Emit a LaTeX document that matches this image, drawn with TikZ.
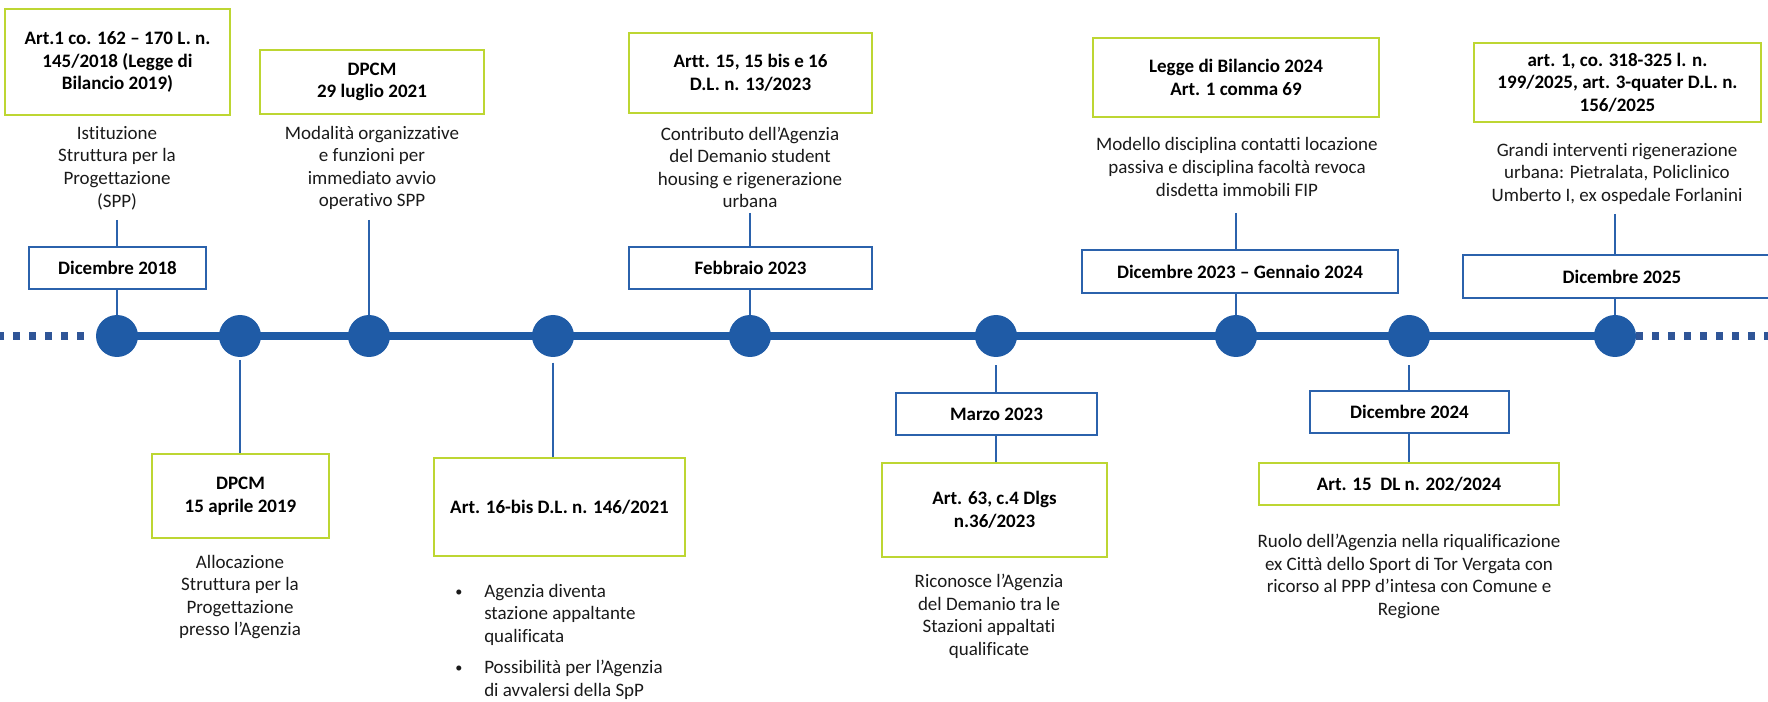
\documentclass[tikz,border=0pt]{standalone}
\usepackage{fontspec}
\setmainfont{Carlito}[Ligatures=NoCommon]
\usepackage{graphicx}
\definecolor{lime}{HTML}{BDD632}
\definecolor{tlblue}{HTML}{1F5BA6}
\definecolor{bxblue}{HTML}{2B62AC}
\definecolor{dotsq}{HTML}{2F5597}
\definecolor{txt}{HTML}{1A1A1A}
\newcommand{\smbul}{\raisebox{0.15ex}{\scalebox{0.75}{\textbullet}}}
\begin{document}
\begin{tikzpicture}[x=0.75pt,y=-0.75pt,
  every node/.style={font=\fontsize{14.25}{16.9}\selectfont, text=txt, inner sep=0pt},
  sz/.style 2 args={minimum width=#1*0.75pt, minimum height=#2*0.75pt},
  lawbox/.style={draw=lime, line width=2.1pt, align=center, font=\bfseries\fontsize{14.25}{16.9}\selectfont, text=black},
  datebox/.style={draw=bxblue, line width=2pt, align=center, font=\bfseries\fontsize{14.25}{16.9}\selectfont, text=black},
  desc/.style={align=center},
  conn/.style={draw=bxblue, line width=1.8pt},
  tdot/.style={circle, fill=tlblue, minimum size=42*0.75pt},
  tline/.style={draw=tlblue, line width=6pt},
  dline/.style={draw=dotsq, line width=5.6pt, dash pattern=on 5.4pt off 6.6pt}
]
\useasboundingbox (0,0) rectangle (1768,702);

% timeline positions
\coordinate (p1) at (117,336);
\coordinate (p2) at (240,336);
\coordinate (p3) at (369,336);
\coordinate (p4) at (553,336);
\coordinate (p5) at (750,336);
\coordinate (p6) at (996,336);
\coordinate (p7) at (1236,336);
\coordinate (p8) at (1409,336);
\coordinate (p9) at (1615,336);
\coordinate (lend) at (0,336);
\coordinate (lstart) at (84,336);
\coordinate (rstart) at (1636,336);
\coordinate (rend) at (1768,336);

\draw[tline] (p1) -- (p9);
\draw[dline] (lstart) -- (lend);
\draw[dline] (rstart) -- (rend);

% ---- top items ----
\node[lawbox, sz={225}{106}] (g1) at (117.5,62) {Art.1 co. 162 -- 170 L. n.\\145/2018 (Legge di\\Bilancio 2019)};
\node[desc] (d1) at (117,168) {Istituzione\\Struttura per la\\Progettazione\\(SPP)};
\coordinate (c1) at (117,220);
\node[datebox, sz={177}{42}] (b1) at (117.5,268) {Dicembre 2018};

\node[lawbox, sz={224}{64}] (g3) at (372,82) {DPCM\\29 luglio 2021};
\node[desc] (d3) at (372,168) {Modalità organizzative\\e funzioni per\\immediato avvio\\operativo SPP};
\coordinate (c3) at (369,220);

\node[lawbox, sz={243}{80}] (g5) at (750.5,73) {Artt. 15, 15 bis e 16\\D.L. n. 13/2023};
\node[desc] (d5) at (750,167.5) {Contributo dell’Agenzia\\del Demanio student\\housing e rigenerazione\\urbana};
\coordinate (c5) at (750,213);
\node[datebox, sz={243}{42}] (b5) at (750.5,268) {Febbraio 2023};

\node[lawbox, sz={286}{79}] (g7) at (1236,77.5) {Legge di Bilancio 2024\\Art. 1 comma 69};
\node[desc] (d7) at (1237,167) {Modello disciplina contatti locazione\\passiva e disciplina facoltà revoca\\disdetta immobili FIP};
\coordinate (c7) at (1236,213);
\node[datebox, sz={316}{43}] (b7) at (1240,271.5) {Dicembre 2023 -- Gennaio 2024};

\node[lawbox, sz={287}{79}] (g9) at (1617.5,82.5) {art. 1, co. 318-325 l. n.\\199/2025, art. 3-quater D.L. n.\\156/2025};
\node[desc] (d9) at (1617,173.5) {Grandi interventi rigenerazione\\urbana: Pietralata, Policlinico\\Umberto I, ex ospedale Forlanini};
\coordinate (c9) at (1615,214);
\node[datebox, sz={318}{43}] (b9) at (1622,276.5) {Dicembre 2025};

% ---- bottom items ----
\node[lawbox, sz={177}{84}] (g2) at (240.5,496) {DPCM\\15 aprile 2019};
\node[desc] (d2) at (240,597) {Allocazione\\Struttura per la\\Progettazione\\presso l’Agenzia};

\node[lawbox, sz={251}{98}] (g4) at (559.5,507) {Art. 16-bis D.L. n. 146/2021};
\node[align=left, anchor=north west] (d4) at (455,584)
  {\makebox[21.75pt][l]{\smbul}Agenzia diventa\\
   \hspace*{21.75pt}stazione appaltante\\
   \hspace*{21.75pt}qualificata\\[6.4pt]
   \makebox[21.75pt][l]{\smbul}Possibilità per l’Agenzia\\
   \hspace*{21.75pt}di avvalersi della SpP};

\node[datebox, sz={201}{42}] (b6) at (996.5,414) {Marzo 2023};
\node[lawbox, sz={225}{94}] (g6) at (994.5,510) {Art. 63, c.4 Dlgs\\n.36/2023};
\node[desc] (d6) at (989,616.5) {Riconosce l’Agenzia\\del Demanio tra le\\Stazioni appaltati\\qualificate};

\node[datebox, sz={199}{42}] (b8) at (1409.5,412) {Dicembre 2024};
\node[lawbox, sz={300}{42}] (g8) at (1409,484) {Art. 15\ \ DL n. 202/2024};
\node[desc] (d8) at (1409,576.5) {Ruolo dell’Agenzia nella riqualificazione\\ex Città dello Sport di Tor Vergata con\\ricorso al PPP d’intesa con Comune e\\Regione};

% ---- connectors ----
\draw[conn] (c1) -- (c1 |- b1.north);
\draw[conn] (c1 |- b1.south) -- (p1);
\draw[conn] (c3) -- (p3);
\draw[conn] (c5) -- (c5 |- b5.north);
\draw[conn] (c5 |- b5.south) -- (p5);
\draw[conn] (c7) -- (c7 |- b7.north);
\draw[conn] (c7 |- b7.south) -- (p7);
\draw[conn] (c9) -- (c9 |- b9.north);
\draw[conn] (c9 |- b9.south) -- (p9);

% dots
\node[tdot] (n1) at (p1) {};
\node[tdot] (n2) at (p2) {};
\node[tdot] (n3) at (p3) {};
\node[tdot] (n4) at (p4) {};
\node[tdot] (n5) at (p5) {};
\node[tdot] (n6) at (p6) {};
\node[tdot] (n7) at (p7) {};
\node[tdot] (n8) at (p8) {};
\node[tdot] (n9) at (p9) {};

\draw[conn, shorten <=2pt] (n2.south) -- (n2 |- g2.north);
\draw[conn, shorten <=4pt] (n4.south) -- (n4 |- g4.north);
\draw[conn, shorten <=6pt] (n6.south) -- (n6 |- b6.north);
\draw[conn] (n6 |- b6.south) -- (n6 |- g6.north);
\draw[conn, shorten <=6pt] (n8.south) -- (n8 |- b8.north);
\draw[conn] (n8 |- b8.south) -- (n8 |- g8.north);
\end{tikzpicture}
\end{document}
